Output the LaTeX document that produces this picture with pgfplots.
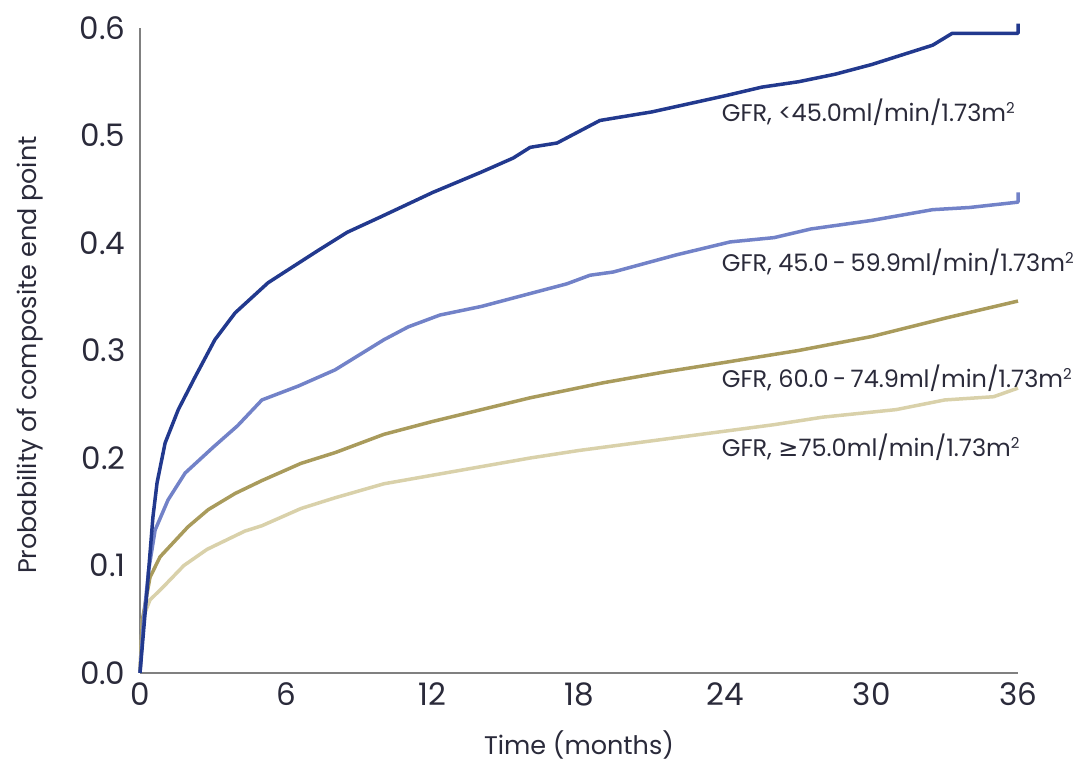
\documentclass[border=0pt]{standalone}
\usepackage{pgfplots}
\pgfplotsset{compat=1.18}
\usepackage{fontspec}
\setmainfont{Poppins}
\newfontfamily\symfont{DejaVu Sans}
\definecolor{cDark}{HTML}{22398E}
\definecolor{cMid}{HTML}{7282C8}
\definecolor{cOlive}{HTML}{A99B5C}
\definecolor{cTan}{HTML}{D9D1AA}
\definecolor{cAxis}{HTML}{808080}
\definecolor{cText}{HTML}{2A2A3A}
\newcommand{\sq}{\raisebox{0.33em}{\fontsize{15}{15}\selectfont 2}}
\newcommand{\dsh}{\hspace{0.18em}-\hspace{0.18em}}
\begin{document}
\begin{tikzpicture}
\begin{scope}[overlay]
\begin{axis}[
  scale only axis, width=878pt, height=645pt,
  xmin=0, xmax=36, ymin=0, ymax=0.6,
  axis x line*=bottom, axis y line*=left,
  axis line style={-, draw=cAxis, line width=1.5pt},
  xtick={0,6,...,36}, ytick={0,0.1,...,0.6},
  major tick length=0pt,
  tick label style={font=\fontsize{31}{37}\selectfont, text=cText},
  /pgf/number format/assume math mode=true,
  yticklabel style={/pgf/number format/fixed, /pgf/number format/fixed zerofill, /pgf/number format/precision=1, xshift=-11pt},
  xticklabel style={yshift=-6pt},
  xlabel={Time (months)}, ylabel={Probability of composite end point},
  label style={font=\fontsize{25.5}{30}\selectfont, text=cText},
  xlabel style={at={(axis description cs:0.5,-0.112)}, anchor=center},
  ylabel style={at={(axis description cs:-0.125,0.493)}, anchor=center},
  every axis plot/.append style={line width=3.5pt, line join=round},
  clip=false,
]
\addplot[cTan] coordinates {(0,0)(0.1,0.05)(0.41,0.068)(0.95,0.08)(1.8,0.1)(2.75,0.115)(4.3,0.132)(5,0.137)(6.6,0.153)(8,0.163)(10,0.176)(12,0.184)(14,0.192)(16,0.2)(18,0.207)(20,0.213)(22,0.219)(24,0.225)(26,0.231)(28,0.238)(31,0.245)(33,0.254)(35,0.257)(36,0.265)};
\addplot[cOlive] coordinates {(0,0)(0.1,0.05)(0.41,0.089)(0.82,0.108)(1.97,0.136)(2.8,0.152)(3.9,0.167)(5,0.179)(6.6,0.195)(8,0.205)(10,0.222)(12,0.234)(14,0.245)(16,0.256)(19,0.27)(21.5,0.28)(24,0.289)(27,0.3)(30,0.313)(33,0.33)(36,0.346)};
\addplot[cMid] coordinates {(0,0)(0.15,0.05)(0.35,0.095)(0.62,0.133)(1.15,0.161)(1.85,0.186)(3,0.21)(4,0.23)(5,0.254)(6.5,0.267)(8,0.282)(9,0.296)(10,0.31)(11,0.322)(12.3,0.333)(14,0.341)(16,0.353)(17.5,0.362)(18.45,0.37)(19.4,0.373)(22,0.389)(24.2,0.401)(26,0.405)(27.5,0.413)(30,0.421)(32.5,0.431)(34,0.433)(36,0.438)(36,0.447)};
\addplot[cDark] coordinates {(0,0)(0.3,0.08)(0.53,0.145)(0.7,0.177)(1.03,0.214)(1.57,0.245)(2.25,0.275)(3.07,0.31)(3.9,0.335)(5.25,0.363)(6,0.374)(7.3,0.393)(8.5,0.41)(9.84,0.424)(12,0.447)(14,0.466)(15.3,0.479)(16,0.489)(17.1,0.493)(18.86,0.514)(21,0.522)(23.2,0.533)(24,0.537)(25.5,0.545)(27,0.55)(28.5,0.557)(30,0.566)(32.5,0.584)(33.3,0.595)(36,0.595)(36,0.604)};
\begin{scope}[every node/.style={anchor=west, inner sep=0pt, text=cText, font=\fontsize{24}{29}\selectfont}]
\node at (axis cs:23.85,0.522) {GFR, <45.0ml/min/1.73m\sq};
\node at (axis cs:23.85,0.382) {GFR, 45.0\dsh59.9ml/min/1.73m\sq};
\node at (axis cs:23.85,0.274) {GFR, 60.0\dsh74.9ml/min/1.73m\sq};
\node at (axis cs:23.85,0.210) {GFR, {\symfont ≥}75.0ml/min/1.73m\sq};
\end{scope}
\end{axis}
\end{scope}
\path (current axis.south west) ++(-140pt,-89pt) coordinate (bbA);
\path (current axis.north east) ++(64pt,28pt) coordinate (bbB);
\path[use as bounding box] (bbA) rectangle (bbB);
\end{tikzpicture}
\end{document}
